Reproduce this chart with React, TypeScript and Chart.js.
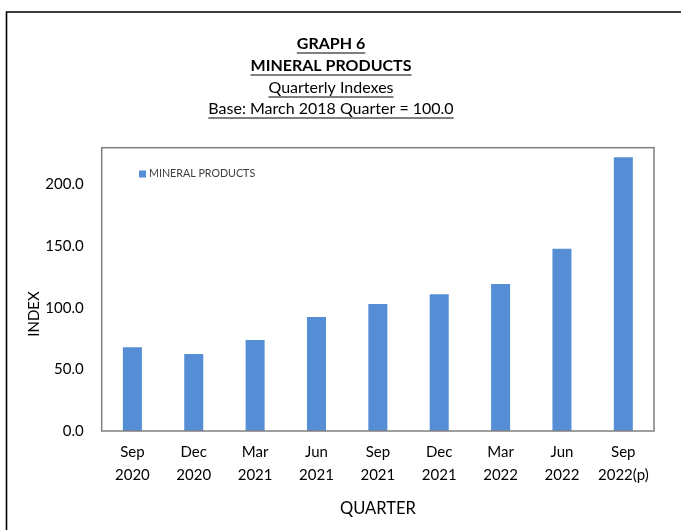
import React, { useEffect, useRef } from "react";
import { Chart, registerables } from "chart.js";

Chart.register(...registerables);

const quarters: string[][] = [
  ["Sep", "2020"],
  ["Dec", "2020"],
  ["Mar", "2021"],
  ["Jun", "2021"],
  ["Sep", "2021"],
  ["Dec", "2021"],
  ["Mar", "2022"],
  ["Jun", "2022"],
  ["Sep", "2022(p)"],
];
const mineralProducts: number[] = [67.9, 62.5, 73.9, 92.6, 103.1, 111.0, 119.4, 147.9, 222.3];
const yTicks: number[] = [0, 50, 100, 150, 200];
const seriesName = "MINERAL PRODUCTS";
const titleLines: { text: string; bold: boolean }[] = [
  { text: "GRAPH 6", bold: true },
  { text: "MINERAL PRODUCTS", bold: true },
  { text: "Quarterly Indexes", bold: false },
  { text: "Base: March 2018 Quarter = 100.0", bold: false },
];
const yTitle = "INDEX";
const xTitle = "QUARTER";

const FONT = "Lato, 'Open Sans', sans-serif";
const BAR = "#558ed5";

const decor = {
  id: "decor",
  afterDraw(chart: any) {
    const { ctx, chartArea: a } = chart;
    ctx.save();
    // outer frame (top and left)
    ctx.strokeStyle = "#000";
    ctx.lineWidth = 1.6;
    ctx.beginPath();
    ctx.moveTo(6.5, 531);
    ctx.lineTo(6.5, 12);
    ctx.lineTo(682, 12);
    ctx.stroke();

    // plot border
    ctx.strokeStyle = "#7f7f7f";
    ctx.lineWidth = 1.5;
    ctx.strokeRect(a.left, a.top, a.right - a.left, a.bottom - a.top);

    // titles
    const cx = 331;
    const ys = [44, 66, 88, 109];
    ctx.fillStyle = "#000";
    ctx.strokeStyle = "#000";
    ctx.textAlign = "center";
    ctx.textBaseline = "middle";
    titleLines.forEach((t, i) => {
      ctx.font = `${t.bold ? "bold " : ""}16px ${FONT}`;
      ctx.fillText(t.text, cx, ys[i]);
      const w = ctx.measureText(t.text).width;
      ctx.lineWidth = 1;
      ctx.beginPath();
      ctx.moveTo(cx - w / 2, ys[i] + 9);
      ctx.lineTo(cx + w / 2, ys[i] + 9);
      ctx.stroke();
    });

    // legend inside plot
    ctx.fillStyle = BAR;
    ctx.fillRect(139, 170.5, 7, 7);
    ctx.fillStyle = "#404040";
    ctx.font = `10.7px ${FONT}`;
    ctx.textAlign = "left";
    ctx.fillText(seriesName, 149, 174);

    // axis titles
    ctx.fillStyle = "#000";
    ctx.font = `16.5px ${FONT}`;
    ctx.textAlign = "center";
    ctx.fillText(xTitle, (a.left + a.right) / 2, 509);
    ctx.font = `15px ${FONT}`;
    ctx.save();
    ctx.translate(34, 314);
    ctx.rotate(-Math.PI / 2);
    ctx.fillText(yTitle, 0, 0);
    ctx.restore();

    ctx.restore();
  },
};

export default function App() {
  const ref = useRef<HTMLCanvasElement | null>(null);
  useEffect(() => {
    if (!ref.current) return;
    const chart = new Chart(ref.current, {
      type: "bar",
      data: {
        labels: quarters,
        datasets: [
          {
            label: seriesName,
            data: mineralProducts,
            backgroundColor: BAR,
            borderWidth: 0,
            barPercentage: 0.31,
            categoryPercentage: 1,
          },
        ],
      },
      options: {
        animation: false,
        responsive: false,
        maintainAspectRatio: false,
        layout: { padding: { left: 0, top: 147.7, right: 27, bottom: 0 } },
        plugins: {
          legend: { display: false },
          tooltip: { enabled: false },
          title: { display: false },
        },
        scales: {
          x: {
            grid: { display: false, drawTicks: false },
            border: { display: false },
            ticks: {
              color: "#000",
              font: { family: FONT, size: 15, lineHeight: 1.5 },
              padding: 10,
              maxRotation: 0,
              autoSkip: false,
            },
            afterFit: (s: any) => {
              s.height = 530 - 431;
            },
          },
          y: {
            min: 0,
            max: 230,
            grid: { display: false, drawTicks: false },
            border: { display: false },
            afterBuildTicks: (s: any) => {
              s.ticks = yTicks.map((v) => ({ value: v }));
            },
            ticks: {
              color: "#000",
              font: { family: FONT, size: 15 },
              padding: 18,
              callback: (v: any) => Number(v).toFixed(1),
            },
            afterFit: (s: any) => {
              s.width = 101.7;
            },
          },
        },
      },
      plugins: [decor],
    });
    return () => chart.destroy();
  }, []);
  return (
    <div style={{ position: "fixed", left: 0, top: 0, width: 681, height: 530, background: "#fff" }}>
      <canvas ref={ref} width={681} height={530} style={{ width: 681, height: 530, display: "block" }} />
    </div>
  );
}
